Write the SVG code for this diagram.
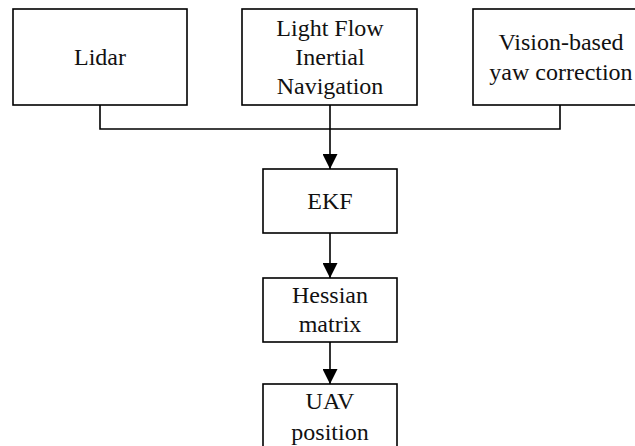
<svg xmlns="http://www.w3.org/2000/svg" width="635" height="446" viewBox="0 0 635 446">
<style>
.box{fill:#fff;stroke:#000;stroke-width:1.6}
.t{font-family:"Liberation Serif","Times New Roman",serif;font-size:24px;fill:#111;text-anchor:middle}
.c{fill:none;stroke:#000;stroke-width:1.6}
</style>
<defs>
<marker id="ah" markerWidth="15" markerHeight="15" viewBox="0 0 15 15" refX="15" refY="7.5" orient="auto" markerUnits="userSpaceOnUse">
<path d="M0,0 L15,7.5 L0,15 Z" fill="#000"/>
</marker>
</defs>
<rect width="635" height="446" fill="#fff"/>
<g id="connectors">
<polyline class="c" points="100,105 100,129 560,129 560,105"/>
<line class="c" x1="330" y1="105" x2="330" y2="169" marker-end="url(#ah)"/>
<line class="c" x1="330" y1="233" x2="330" y2="278" marker-end="url(#ah)"/>
<line class="c" x1="330" y1="342" x2="330" y2="384" marker-end="url(#ah)"/>
</g>
<g id="lidar">
<rect class="box" x="13" y="9" width="174" height="96"/>
<text class="t" x="100" y="65">Lidar</text>
</g>
<g id="lightflow">
<rect class="box" x="242" y="9" width="175" height="96"/>
<text class="t" x="330" y="36">Light Flow</text>
<text class="t" x="330" y="65">Inertial</text>
<text class="t" x="330" y="94">Navigation</text>
</g>
<g id="vision">
<rect class="box" x="473" y="9" width="174" height="96"/>
<text class="t" x="561" y="50">Vision-based</text>
<text class="t" x="561" y="80">yaw correction</text>
</g>
<g id="ekf">
<rect class="box" x="263" y="169" width="134" height="64"/>
<text class="t" x="330" y="209">EKF</text>
</g>
<g id="hessian">
<rect class="box" x="263" y="278" width="134" height="64"/>
<text class="t" x="330" y="303">Hessian</text>
<text class="t" x="330" y="332">matrix</text>
</g>
<g id="uav">
<rect class="box" x="263" y="384" width="134" height="70"/>
<text class="t" x="330" y="409">UAV</text>
<text class="t" x="330" y="440">position</text>
</g>
</svg>
